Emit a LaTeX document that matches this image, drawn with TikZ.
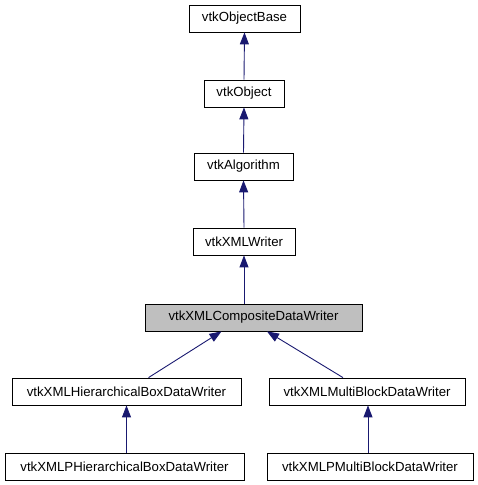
\documentclass[tikz,border=0pt]{standalone}
\usepackage{fontspec}
\setmainfont{Liberation Sans}
\usepackage{tikz}
\usetikzlibrary{arrows.meta}
\definecolor{edgeblue}{RGB}{25,25,112}
\tikzset{
  cls/.style={draw=black,fill=white,line width=0.8pt,minimum height=27pt,inner sep=0pt,
    font=\fontsize{13.2}{16}\selectfont},
  inh/.style={draw=edgeblue,line width=0.9pt,-{Triangle[length=12pt,width=9pt]}}
}

\begin{document}
\begin{tikzpicture}[x=1pt,y=-1pt]
\useasboundingbox (0,0) rectangle (477,485);
\node[cls,minimum width=111pt] (base) at (244.5,18.5) {vtkObjectBase};
\node[cls,minimum width=80pt] (obj) at (244,93.5) {vtkObject};
\node[cls,minimum width=99pt] (algo) at (243.5,166.5) {vtkAlgorithm};
\node[cls,minimum width=102pt] (xmlw) at (244,241.5) {vtkXMLWriter};
\node[cls,minimum width=217pt,fill=black!25] (comp) at (253.5,317.5) {vtkXMLCompositeDataWriter};
\node[cls,minimum width=229pt] (hbox) at (126.5,391.5) {vtkXMLHierarchicalBoxDataWriter};
\node[cls,minimum width=196pt] (mblock) at (367,391.5) {vtkXMLMultiBlockDataWriter};
\node[cls,minimum width=239pt] (phbox) at (124.5,466.5) {vtkXMLPHierarchicalBoxDataWriter};
\node[cls,minimum width=206pt] (pmblock) at (370,466.5) {vtkXMLPMultiBlockDataWriter};
% inheritance
\draw[inh] (obj.north) -- (base.south);
\draw[inh] (algo.north) -- (obj.south);
\draw[inh] (xmlw.north) -- (algo.south);
\draw[inh] (comp.north -| xmlw.south) -- (xmlw.south);
\draw[inh] ([xshift=22pt]hbox.north) -- ([xshift=-32pt]comp.south);
\draw[inh] ([xshift=-24pt]mblock.north) -- ([xshift=13.5pt]comp.south);
\draw[inh] (phbox.north -| hbox.south) -- (hbox.south);
\draw[inh] ([xshift=1pt]mblock.south |- pmblock.north) -- ([xshift=1pt]mblock.south);
\end{tikzpicture}
\end{document}
